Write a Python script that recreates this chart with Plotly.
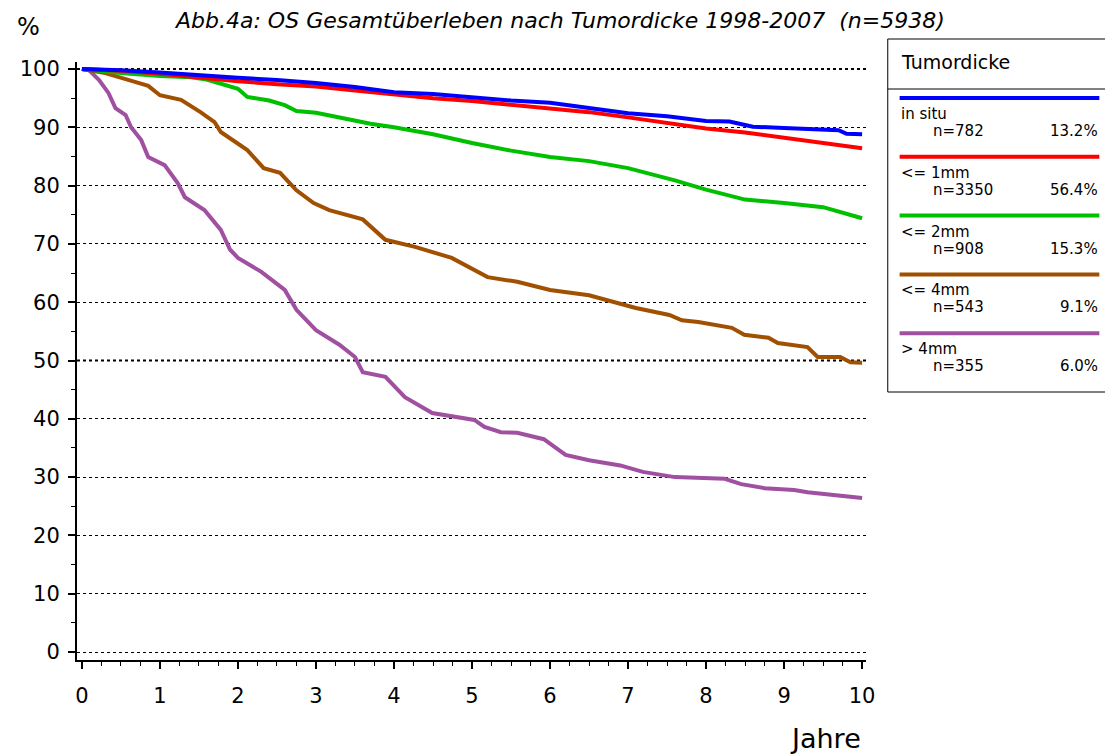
import plotly.graph_objects as go

# Kaplan-Meier OS curves (years, percent)
insitu_t = [0, 0.5, 1, 1.5, 2, 2.5, 3, 3.5, 4, 4.5, 5, 5.5, 6, 6.5, 7, 7.5, 8, 8.3, 8.6, 9, 9.4, 9.7, 9.8, 10]
insitu_s = [100, 99.8, 99.4, 98.9, 98.5, 98.1, 97.6, 96.9, 96.0, 95.7, 95.1, 94.6, 94.2, 93.3, 92.4, 91.9, 91.1, 91.0, 90.1, 89.9, 89.7, 89.5, 88.9, 88.8]

mm1_t = [0, 0.5, 1, 1.5, 2, 2.5, 3, 3.5, 4, 4.5, 5, 5.5, 6, 6.5, 7, 7.5, 8, 8.5, 9, 9.5, 10]
mm1_s = [100, 99.7, 99.2, 98.5, 97.9, 97.4, 97.0, 96.3, 95.6, 95.0, 94.5, 93.9, 93.3, 92.6, 91.7, 90.8, 89.8, 89.1, 88.2, 87.2, 86.4]

mm2_t = [0, 0.5, 1, 1.4, 1.6, 1.7, 2.0, 2.12, 2.4, 2.6, 2.75, 3.0, 3.38, 3.7, 4.0, 4.5, 5.0, 5.5, 6.0, 6.5, 7.0, 7.3, 7.6, 8.0, 8.5, 9.0, 9.5, 10]
mm2_s = [100, 99.3, 98.8, 98.6, 98.2, 97.8, 96.6, 95.2, 94.6, 93.8, 92.8, 92.5, 91.4, 90.6, 90.0, 88.8, 87.3, 86.0, 84.9, 84.2, 83.0, 82.0, 80.9, 79.3, 77.6, 77.0, 76.3, 74.4]

mm4_t = [0, 0.3, 0.68, 0.85, 1.0, 1.27, 1.52, 1.7, 1.78, 2.12, 2.33, 2.54, 2.75, 2.97, 3.17, 3.38, 3.6, 3.89, 4.27, 4.74, 4.9, 5.2, 5.58, 6.0, 6.5, 6.84, 7.1, 7.53, 7.69, 7.9, 8.33, 8.49, 8.8, 8.92, 9.3, 9.43, 9.72, 9.85, 10]
mm4_s = [100, 99.3, 97.8, 97.1, 95.5, 94.7, 92.6, 90.9, 89.2, 86.1, 83.0, 82.2, 79.2, 77.0, 75.8, 75.0, 74.2, 70.7, 69.5, 67.6, 66.4, 64.3, 63.5, 62.1, 61.2, 60.0, 59.0, 57.8, 56.9, 56.6, 55.6, 54.4, 53.9, 53.0, 52.3, 50.6, 50.6, 49.7, 49.6]

gt4_t = [0, 0.09, 0.22, 0.34, 0.43, 0.56, 0.63, 0.76, 0.85, 1.06, 1.23, 1.32, 1.57, 1.78, 1.9, 2.0, 2.3, 2.6, 2.75, 3.0, 3.3, 3.5, 3.6, 3.89, 4.14, 4.49, 5.03, 5.16, 5.37, 5.58, 5.92, 6.2, 6.5, 6.9, 7.19, 7.6, 8.24, 8.45, 8.75, 9.13, 9.3, 9.72, 10]
gt4_s = [100, 99.8, 98.1, 95.9, 93.3, 92.1, 90.0, 87.8, 84.9, 83.5, 80.4, 78.0, 75.8, 72.4, 69.0, 67.6, 65.2, 62.1, 58.7, 55.2, 52.7, 50.6, 48.0, 47.2, 43.7, 41.0, 39.8, 38.6, 37.7, 37.6, 36.5, 33.8, 32.9, 32.0, 30.9, 30.0, 29.7, 28.8, 28.1, 27.8, 27.4, 26.8, 26.4]

groups = ["in situ", "<= 1mm", "<= 2mm", "<= 4mm", "> 4mm"]
counts = [782, 3350, 908, 543, 355]
shares = ["13.2%", "56.4%", "15.3%", "9.1%", "6.0%"]
colors = ["#0000ff", "#ff0000", "#00c000", "#a05000", "#a050a0"]
series = [(insitu_t, insitu_s), (mm1_t, mm1_s), (mm2_t, mm2_s), (mm4_t, mm4_s), (gt4_t, gt4_s)]

FONT = "DejaVu Sans"

fig = go.Figure()
# draw in reverse so blue ends up on top
for (t, s), c in reversed(list(zip(series, colors))):
    fig.add_trace(go.Scatter(x=t, y=s, mode="lines", line=dict(color=c, width=4),
                             showlegend=False, hoverinfo="skip"))

# page body has an 8px margin, so the figure is drawn 8px smaller and
# everything below is given in screen pixels
OFF = 8
W, H = 1113 - OFF, 756 - OFF
L, R, T, B = 68, 866, 62, 660   # plot area on screen


def px(x):
    return (x - L) / (R - L)


def py(y):
    return (B - y) / (B - T)


shapes = []
annotations = []

# thicker dotted lines at 50 and 100
for v in [50, 100]:
    shapes.append(dict(type="line", xref="paper", yref="y", x0=0, x1=1, y0=v, y1=v,
                       line=dict(color="black", width=2, dash="dot"), layer="below"))

# legend box
shapes.append(dict(type="rect", xref="paper", yref="paper", x0=px(888), x1=px(1112),
                   y0=py(392), y1=py(39), line=dict(color="black", width=1)))
shapes.append(dict(type="line", xref="paper", yref="paper", x0=px(888), x1=px(1112),
                   y0=py(89), y1=py(89), line=dict(color="black", width=1)))
annotations.append(dict(text="Tumordicke", xref="paper", yref="paper", x=px(899), y=py(62),
                        xanchor="left", yanchor="middle", showarrow=False,
                        font=dict(family=FONT, size=19, color="black")))
for i, (g, n, p, c) in enumerate(zip(groups, counts, shares, colors)):
    ly = 98 + i * 58.8
    shapes.append(dict(type="line", xref="paper", yref="paper", x0=px(900), x1=px(1102),
                       y0=py(ly), y1=py(ly), line=dict(color=c, width=4)))
    annotations.append(dict(text=g, xref="paper", yref="paper", x=px(899), y=py(ly + 16),
                            xanchor="left", yanchor="middle", showarrow=False,
                            font=dict(family=FONT, size=15, color="black")))
    annotations.append(dict(text="n=%d" % n, xref="paper", yref="paper", x=px(932), y=py(ly + 33),
                            xanchor="left", yanchor="middle", showarrow=False,
                            font=dict(family=FONT, size=15, color="black")))
    annotations.append(dict(text=p, xref="paper", yref="paper", x=px(1103), y=py(ly + 33),
                            xanchor="right", yanchor="middle", showarrow=False,
                            font=dict(family=FONT, size=15, color="black")))

annotations.append(dict(text="<i>Abb.4a: OS Gesamtüberleben nach Tumordicke 1998-2007  (n=5938)</i>",
                        xref="paper", yref="paper", x=px(556), y=py(20), xanchor="center",
                        yanchor="middle", showarrow=False,
                        font=dict(family=FONT, size=22, color="black")))
annotations.append(dict(text="%", xref="paper", yref="paper", x=px(5), y=py(27), xanchor="left",
                        yanchor="middle", showarrow=False, font=dict(family=FONT, size=24, color="black")))
annotations.append(dict(text="Jahre", xref="paper", yref="paper", x=px(863), y=py(738), xanchor="right",
                        yanchor="middle", showarrow=False, font=dict(family=FONT, size=27, color="black")))

fig.update_layout(
    width=W, height=H,
    margin=dict(l=L - OFF, r=W - (R - OFF), t=T - OFF, b=H - (B - OFF)),
    plot_bgcolor="white", paper_bgcolor="white",
    font=dict(family=FONT, size=21, color="black"),
    shapes=shapes, annotations=annotations,
    xaxis=dict(range=[-0.063, 10.05], tickvals=list(range(0, 11)), showgrid=False, zeroline=False,
               showline=True, linecolor="black", linewidth=2, ticks="outside", ticklen=7,
               tickwidth=2, tickcolor="black", ticklabelstandoff=9,
               minor=dict(dtick=0.25, ticks="outside", ticklen=4, tickwidth=1, tickcolor="black")),
    yaxis=dict(range=[-1.37, 101.2], tickvals=list(range(0, 101, 10)), showgrid=True,
               gridcolor="black", griddash="dot", gridwidth=1, zeroline=False,
               showline=True, linecolor="black", linewidth=2, ticks="outside", ticklen=7,
               tickwidth=2, tickcolor="black", ticklabelstandoff=4,
               minor=dict(dtick=5, ticks="outside", ticklen=4, tickwidth=1, tickcolor="black",
                          showgrid=False)),
)

fig.write_html("out.html")
